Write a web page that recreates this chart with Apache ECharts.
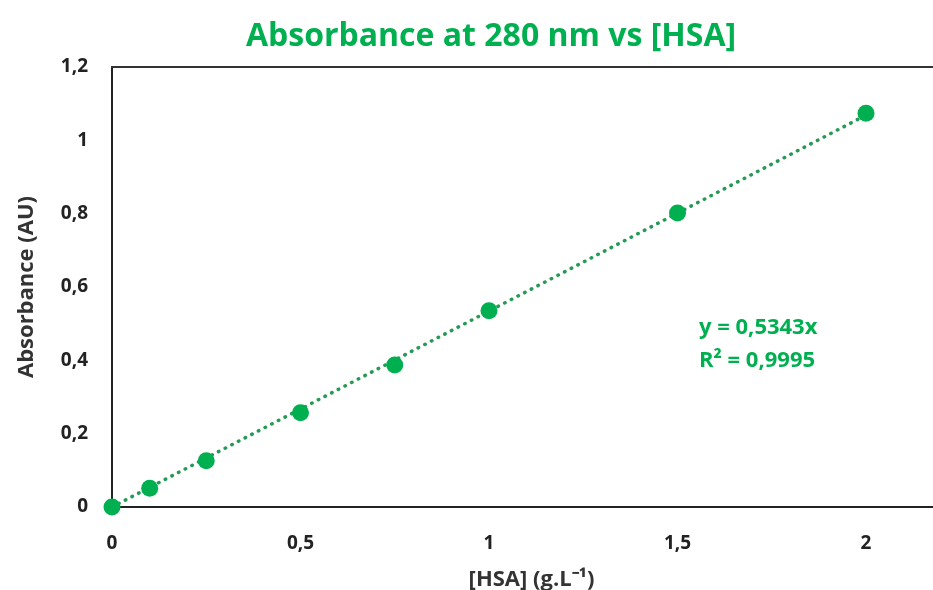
<!DOCTYPE html>
<html>
<head>
<meta charset="utf-8">
<script src="https://cdn.jsdelivr.net/npm/echarts@6/dist/echarts.min.js"></script>
<style>html,body{margin:0;padding:0;background:#fff}#c{width:933px;height:590px}</style>
</head>
<body>
<div id="c"></div>
<script>
var concentrations = [0, 0.1, 0.25, 0.5, 0.75, 1, 1.5, 2];
var absorbances = [0, 0.051, 0.126, 0.257, 0.387, 0.535, 0.802, 1.074];
var trendX = [0, 2];
var trendY = [0, 1.0686];
var equationLines = ['y = 0,5343x', 'R² = 0,9995'];
var titleText = 'Absorbance at 280 nm vs [HSA]';
var xName = '[HSA] (g.L⁻¹)';
var yName = 'Absorbance (AU)';

var green = '#00b050';
var fontFam = '"Open Sans", sans-serif';
function fmt(v){ return String(v).replace('.', ','); }
var xMax = 2.1777;

var chart = echarts.init(document.getElementById('c'), null, {renderer: 'canvas'});
chart.setOption({
  animation: false,
  backgroundColor: '#fff',
  title: {
    text: titleText, left: 486, top: 16, textAlign: 'center',
    textStyle: {color: green, fontFamily: fontFam, fontWeight: 'bold', fontSize: 32}
  },
  grid: {left: 112, top: 67, right: 0, bottom: 83, show: false, containLabel: false, outerBoundsMode: 'none'},
  xAxis: [{
    type: 'value', min: 0, max: xMax, interval: 0.5,
    name: xName, nameLocation: 'middle', nameGap: 62,
    nameTextStyle: {color: '#333', fontFamily: fontFam, fontWeight: 'bold', fontSize: 22, padding: [0, 0, 0, 18]},
    axisLine: {show: true, lineStyle: {color: '#222', width: 2}},
    axisTick: {show: false}, splitLine: {show: false},
    axisLabel: {
      color: '#222', fontFamily: fontFam, fontWeight: 'bold', fontSize: 19, margin: 27,
      showMaxLabel: false,
      formatter: function(v){ return (Math.abs(v*2 - Math.round(v*2)) < 1e-6) ? fmt(v) : ''; }
    }
  }, {
    type: 'value', position: 'top', min: 0, max: xMax,
    axisLine: {show: true, lineStyle: {color: '#333', width: 2}},
    axisTick: {show: false}, splitLine: {show: false}, axisLabel: {show: false}
  }],
  yAxis: {
    type: 'value', min: 0, max: 1.2, interval: 0.2,
    name: yName, nameLocation: 'middle', nameGap: 74, nameRotate: 90,
    nameTextStyle: {color: '#333', fontFamily: fontFam, fontWeight: 'bold', fontSize: 22},
    axisLine: {show: true, lineStyle: {color: '#222', width: 2}},
    axisTick: {show: false}, splitLine: {show: false},
    axisLabel: {
      color: '#222', fontFamily: fontFam, fontWeight: 'bold', fontSize: 19, margin: 24,
      formatter: function(v){ return fmt(Math.round(v*10)/10); }
    }
  },
  graphic: [{
    type: 'text', left: 699, top: 311,
    style: {text: equationLines.join('\n'), fill: green, font: 'bold 22px ' + fontFam, lineHeight: 33}
  }],
  series: [{
    type: 'line', data: trendX.map(function(x, i){ return [x, trendY[i]]; }),
    showSymbol: false, symbol: 'none', silent: true,
    lineStyle: {color: '#259a55', width: 3.5, type: [0.5, 7], cap: 'round'},
    z: 1
  }, {
    type: 'scatter', data: concentrations.map(function(x, i){ return [x, absorbances[i]]; }),
    symbolSize: 17, itemStyle: {color: green, opacity: 1}, z: 3
  }]
});
</script>
</body>
</html>
